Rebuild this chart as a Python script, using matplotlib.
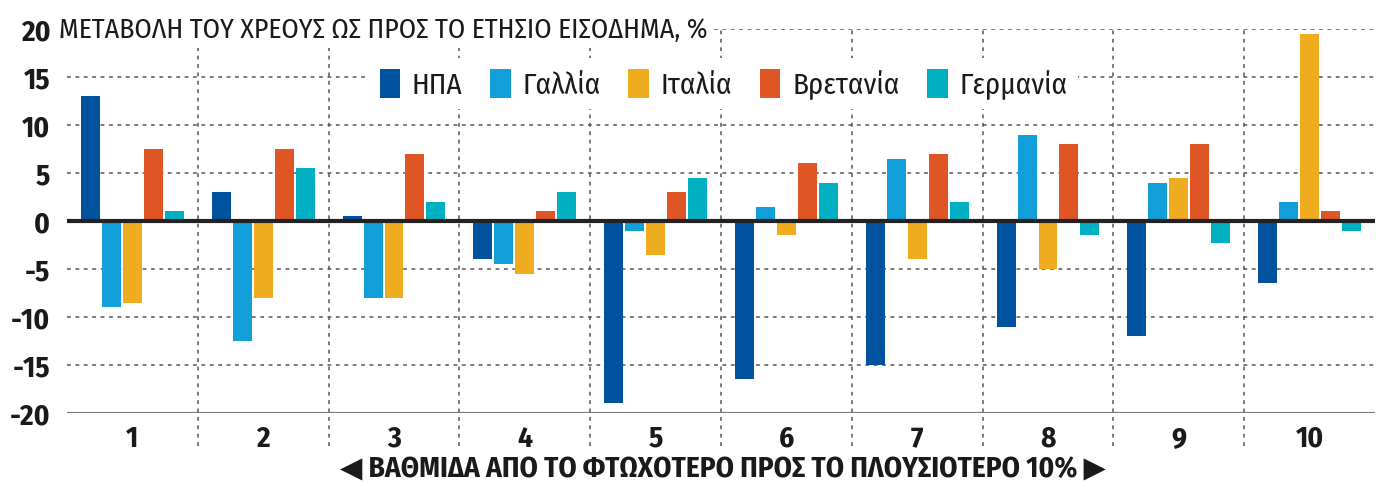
'''Change of debt-to-income ratio by income decile, five countries.'''

import numpy as np
import matplotlib.pyplot as plt

# Data
deciles=['1', '2', '3', '4', '5', '6', '7', '8', '9', '10']
countries=['ΗΠΑ', 'Γαλλία', 'Ιταλία', 'Βρετανία', 'Γερμανία']
usa=[13, 3, 0.5, -4, -19, -16.5, -15, -11, -12, -6.5]
france=[-9, -12.5, -8, -4.5, -1, 1.5, 6.5, 9, 4, 2]
italy=[-8.5, -8, -8, -5.5, -3.5, -1.5, -4, -5, 4.5, 19.5]
uk=[7.5, 7.5, 7, 1, 3, 6, 7, 8, 8, 1]
germany=[1, 5.5, 2, 3, 4.5, 4, 2, -1.5, -2.3, -1]
colors=['#00519E', '#129FDA', '#F0AC1F', '#E05526', '#00AFC1']
yticks=[-20, -15, -10, -5, 0, 5, 10, 15, 20]

TITLE='ΜΕΤΑΒΟΛΗ ΤΟΥ ΧΡΕΟΥΣ ΩΣ ΠΡΟΣ ΤΟ ΕΤΗΣΙΟ ΕΙΣΟΔΗΜΑ, %'
XLABEL='ΒΑΘΜΙΔΑ ΑΠΟ ΤΟ ΦΤΩΧΟΤΕΡΟ ΠΡΟΣ ΤΟ ΠΛΟΥΣΙΟΤΕΡΟ 10%'

FONT=['Fira Sans Condensed', 'Roboto', 'DejaVu Sans']
plt.rcParams['font.family']=FONT

fig=plt.figure(figsize=(13.84, 4.85), dpi=100)
ax=fig.add_axes([67/1384, 71/485, 1308/1384, 384/485])

x=np.arange(len(deciles))
step=0.16
width=0.145
series=[usa, france, italy, uk, germany]
for i, (vals, name, col) in enumerate(zip(series, countries, colors)):
    ax.bar(x+(i-2)*step, vals, width, color=col, label=name, zorder=3)

ax.set_xlim(-0.5, len(deciles)-0.5)
ax.set_ylim(-20, 20)

# Horizontal dotted grid
for yv in yticks:
    if yv in (0, -20):
        continue
    ax.axhline(yv, color='#555555', lw=1.1, ls=(0, (2.5, 3)), zorder=1)

# Group separators reaching down through the tick labels
for b in x[:-1]+0.5:
    ax.axvline(b, ymin=-0.085, ymax=1, color='#555555', lw=1.1,
               ls=(0, (2.5, 3)), zorder=1, clip_on=False)

ax.axhline(0, color='#222222', lw=3, zorder=4)
ax.axhline(-20, color='#777777', lw=1.5, zorder=4)

for s in ax.spines.values():
    s.set_visible(False)

ax.set_yticks(yticks)
ax.set_yticklabels([str(v) for v in yticks])
ax.tick_params(axis='y', length=0, pad=12, labelsize=21, labelcolor='#1a1a1a')
ax.set_xticks(x)
ax.set_xticklabels(deciles)
ax.tick_params(axis='x', length=0, pad=8, labelsize=21, labelcolor='#1a1a1a')
for lab in ax.get_yticklabels()+ax.get_xticklabels():
    lab.set_fontweight('bold')

# Title next to the top tick label
ax.text(-0.006, 1.0, TITLE, transform=ax.transAxes, fontsize=20,
        color='#1a1a1a', va='center', ha='left', zorder=5,
        bbox=dict(facecolor='white', edgecolor='none', pad=4))

# Bottom axis caption with arrows
fig.text(0.522, 15/485, '◀ '+XLABEL+' ▶', ha='center', va='center',
         fontsize=21, fontweight='bold', color='#1a1a1a', family=FONT)

leg=ax.legend(loc='center', bbox_to_anchor=(0.502, 0.857), ncol=5,
              frameon=True, prop={'size': 21}, labelcolor='#1a1a1a',
              handlelength=0.7, handleheight=1.2,
              columnspacing=0.95, handletextpad=0.4, borderpad=0.35)
leg.get_frame().set_facecolor('white')
leg.get_frame().set_edgecolor('none')
leg.get_frame().set_alpha(1)
leg.set_zorder(6)

fig.savefig('out.png', dpi=100)
